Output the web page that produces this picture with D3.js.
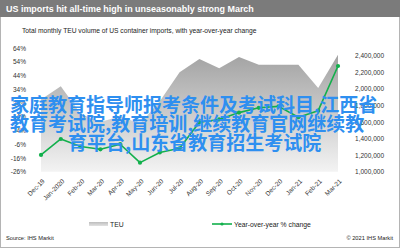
<!DOCTYPE html>
<html>
<head>
<meta charset="utf-8">
<script src="https://cdn.jsdelivr.net/npm/d3@7"></script>
<style>
  html, body { margin: 0; padding: 0; background: #fff; }
  svg { display: block; font-family: "Liberation Sans", Arial, sans-serif; }
</style>
</head>
<body>
<svg id="chart" width="400" height="248"></svg>
<script>
// month labels along the x axis
const months = ["Dec-19", "Jan-2020", "Feb-20", "Mar-20", "Apr-20", "May-20", "Jun-20", "Jul-20",
    "Aug-20", "Sep-20", "Oct-20", "Nov-20", "Dec-20", "Jan-21", "Feb-21", "Mar-21"];

// total monthly TEU (right axis)
const teu = [1870000, 2030000, 1700000, 1600000, 1670000, 1580000, 1850000, 2200000,
    2360000, 2250000, 2385000, 2290000, 2290000, 2290000, 2010000, 2410000];

// year-over-year % change (left axis)
const yoy = [-13.8, -2.2, -7.7, -9.7, -6, -19.4, -12, -9, 10, 12, 17, 20.5, 21.5, 13.6, 18.4, 50.9];

const pctTicks = [-26, -16, -6, 4, 14, 24, 34, 44, 54, 64];
const teuTicks = [1000000, 1200000, 1400000, 1600000, 1800000, 2000000, 2200000, 2400000];

const overlayLines = ["家庭教育指导师报考条件及考试科目,江西省", "教育考试院,教育培训,继续教育官网继续教", "育平台,山东省教育招生考试院"];

const W = 400, H = 248;
const svg = d3.select("#chart");

// frame + header
svg.append("rect").attr("x", 0.5).attr("y", 0.5).attr("width", W - 1).attr("height", H - 1)
    .attr("fill", "#fff").attr("stroke", "#b4b4b4");
svg.append("rect").attr("x", 0).attr("y", 0).attr("width", W).attr("height", 17).attr("fill", "#7b7b7b");
svg.append("text").attr("x", 6).attr("y", 11.5).attr("fill", "#fff")
    .attr("font-size", 8.95).attr("font-weight", "bold")
    .text("US imports hit all-time high in unseasonably strong March");
svg.append("text").attr("x", 22).attr("y", 33).attr("fill", "#222").attr("font-size", 6.7)
    .text("Total monthly TEU volume of US container imports, with year-over-year change");

// scales
const x = d3.scalePoint().domain(months).range([41, 338]);
const yL = d3.scaleLinear().domain([-26, 64]).range([171.7, 48]);
const yR = d3.scaleLinear().domain([1000000, 2400000]).range([171.7, 55.7]);

// gradient for the TEU area
const defs = svg.append("defs");
const grad = defs.append("linearGradient").attr("id", "teuGrad")
    .attr("x1", 0).attr("y1", 0).attr("x2", 0).attr("y2", 1);
grad.append("stop").attr("offset", "0%").attr("stop-color", "#a3a3a3");
grad.append("stop").attr("offset", "100%").attr("stop-color", "#f3f3f3");
const lgGrad = defs.append("linearGradient").attr("id", "legGrad")
    .attr("x1", 0).attr("y1", 0).attr("x2", 0).attr("y2", 1);
lgGrad.append("stop").attr("offset", "0%").attr("stop-color", "#bdbdbd");
lgGrad.append("stop").attr("offset", "100%").attr("stop-color", "#e2e2e2");

const area = d3.area()
    .x((d, i) => x(months[i]))
    .y0(yR(1000000))
    .y1(d => yR(d));
svg.append("path").datum(teu).attr("d", area).attr("fill", "url(#teuGrad)");

// axes
const leftAxis = d3.axisLeft(yL).tickValues(pctTicks).tickSize(0).tickPadding(0)
    .tickFormat(d => d + "%");
const gl = svg.append("g").attr("transform", "translate(26,0)").call(leftAxis);
const rightAxis = d3.axisRight(yR).tickValues(teuTicks).tickSize(0).tickPadding(0)
    .tickFormat(d3.format(","));
const gr = svg.append("g").attr("transform", "translate(384,0)").call(rightAxis);
gr.selectAll("text").attr("text-anchor", "end");
const bottomAxis = d3.axisBottom(x).tickSize(0).tickPadding(0);
const gb = svg.append("g").attr("transform", "translate(0,180)").call(bottomAxis);
gb.selectAll("text")
    .attr("text-anchor", "end")
    .attr("transform", "translate(2,0) rotate(-45)")
    .attr("dy", "0.35em").attr("y", 0).attr("x", 0);
[gl, gr, gb].forEach(g => {
    g.select(".domain").remove();
    g.selectAll("text").attr("font-size", 6.5).attr("fill", "#333")
        .attr("font-family", "Liberation Sans, Arial, sans-serif");
});

// YoY line
const green = "#12b04c";
const line = d3.line().x((d, i) => x(months[i])).y(d => yL(d));
svg.append("path").datum(yoy).attr("d", line).attr("fill", "none")
    .attr("stroke", green).attr("stroke-width", 1.6).attr("stroke-linejoin", "round");
svg.selectAll("circle.pt").data(yoy).join("circle").attr("class", "pt")
    .attr("cx", (d, i) => x(months[i])).attr("cy", d => yL(d)).attr("r", 2.1).attr("fill", green);

// legend
svg.append("rect").attr("x", 89).attr("y", 222).attr("width", 19).attr("height", 4)
    .attr("fill", "url(#legGrad)");
svg.append("text").attr("x", 110).attr("y", 226.5).attr("font-size", 6.8).attr("fill", "#222").text("TEU");
svg.append("line").attr("x1", 212).attr("x2", 232).attr("y1", 224).attr("y2", 224)
    .attr("stroke", green).attr("stroke-width", 1.6);
svg.append("circle").attr("cx", 222).attr("cy", 224).attr("r", 1.6).attr("fill", green);
svg.append("text").attr("x", 234).attr("y", 226.5).attr("font-size", 6.8).attr("fill", "#222")
    .text("Year-over-year % change");

// footer
svg.append("text").attr("x", 6).attr("y", 239.5).attr("font-size", 5.7).attr("fill", "#222")
    .text("Source: IHS Markit");
svg.append("text").attr("x", 393).attr("y", 239.5).attr("font-size", 5.7).attr("fill", "#222")
    .attr("text-anchor", "end").text("© 2021 IHS Markit");

// blue overlay text
const overlayX = [10, 10, 68];
svg.append("g").selectAll("text").data(overlayLines).join("text")
    .attr("x", (d, i) => overlayX[i])
    .attr("y", (d, i) => 112 + i * 19)
    .attr("font-family", "Noto Sans CJK SC, sans-serif")
    .attr("font-size", 19).attr("font-weight", "bold")
    .attr("fill", "#2e8ff0")
    .text(d => d);
</script>
</body>
</html>
